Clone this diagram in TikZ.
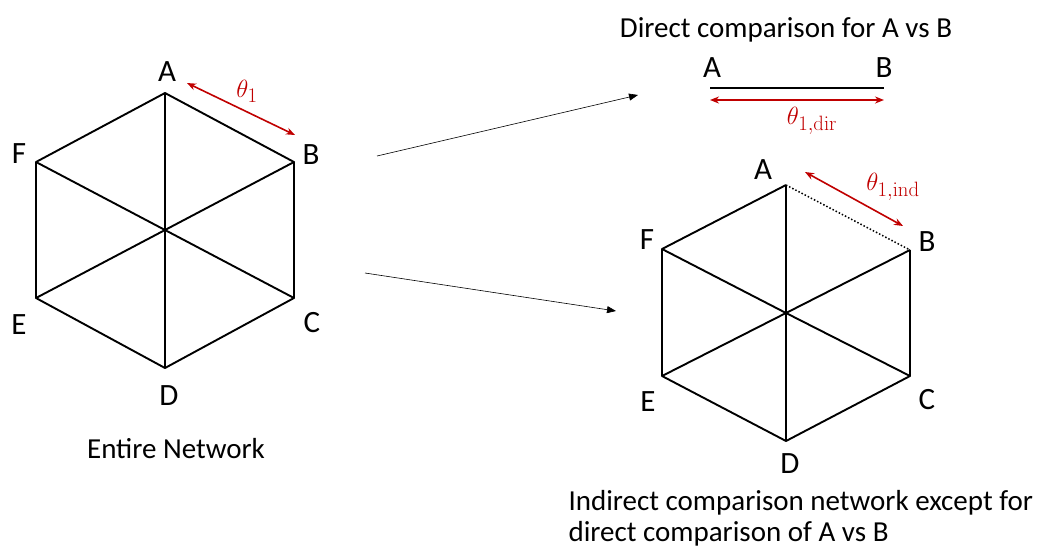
\documentclass[tikz,border=0pt]{standalone}
\usepackage[no-math]{fontspec}
\setmainfont{Carlito}
\usetikzlibrary{arrows.meta}
\definecolor{thetared}{RGB}{192,0,0}
\begin{document}
\begin{tikzpicture}[x=1pt,y=-1pt,
  vtx/.style={font=\fontsize{31}{37}\selectfont},
  caption/.style={font=\fontsize{29}{33}\selectfont, anchor=base},
  edge/.style={line width=1.9pt, line join=round},
  par/.style={thetared, line width=1.6pt, {Stealth[length=9pt,width=7pt]}-{Stealth[length=9pt,width=7pt]}},
  theta/.style={thetared, font=\fontsize{31}{35}\selectfont},
  flow/.style={line width=0.6pt, -{Triangle[length=9pt,width=7pt]}}]
\useasboundingbox (0,0) rectangle (1046,550);
% entire network
\coordinate (lA) at (165,93);  \coordinate (lB) at (294,162);
\coordinate (lC) at (294,298); \coordinate (lD) at (165,368);
\coordinate (lE) at (36,298);  \coordinate (lF) at (36,162);
\coordinate (lO) at (165,230);
\node[vtx] (lAt) at (167,72) {A};  \node[vtx] (lBt) at (311,155) {B};
\node[vtx] (lCt) at (312,323) {C}; \node[vtx] (lDt) at (169,396) {D};
\node[vtx] (lEt) at (19,325) {E};  \node[vtx] (lFt) at (19,154) {F};
\draw[edge] (lA) -- (lB) -- (lC) -- (lD) -- (lE) -- (lF) -- cycle;
\draw[edge, line width=2.6pt] (lE) -- (lF);
\foreach \v in {A,B,C,D,E,F} \draw[edge] (lO) -- (l\v);
\coordinate (lpa) at (187,83); \coordinate (lpb) at (295,135);
\draw[par] (lpa) -- (lpb);
\node[theta] (lth) at (247,91) {$\theta_1$};
\node[caption] (entire) at (176,458) {Entire Network};
% direct comparison
\node[caption] (dirtitle) at (786,37) {Direct comparison for A vs B};
\node[vtx] (dAt) at (712,68) {A}; \node[vtx] (dBt) at (884,68) {B};
\coordinate (dA) at (710,88); \coordinate (dB) at (884,88);
\draw[line width=1.8pt] (dA) -- (dB);
\coordinate (dpa) at (710,100); \coordinate (dpb) at (884,100);
\draw[par] (dpa) -- (dpb);
\node[theta] (dth) at (812,121) {$\theta_{1,\mathrm{dir}}$};
% indirect network
\coordinate (rA) at (786,185); \coordinate (rB) at (910,250);
\coordinate (rC) at (910,376); \coordinate (rD) at (786,441);
\coordinate (rE) at (662,376); \coordinate (rF) at (662,249);
\coordinate (rO) at (786,313);
\node[vtx] (rAt) at (763,170) {A}; \node[vtx] (rBt) at (927,242) {B};
\node[vtx] (rCt) at (927,400) {C}; \node[vtx] (rDt) at (790,464) {D};
\node[vtx] (rEt) at (648,402) {E}; \node[vtx] (rFt) at (647,240) {F};
\draw[edge] (rB) -- (rC) -- (rD) -- (rE) -- (rF) -- (rA);
\draw[line width=1.5pt, dotted] (rA) -- (rB);
\foreach \v in {A,B,C,D,E,F} \draw[edge] (rO) -- (r\v);
\coordinate (rpa) at (805,172); \coordinate (rpb) at (903,226);
\draw[par] (rpa) -- (rpb);
\node[theta] (rth) at (893,187) {$\theta_{1,\mathrm{ind}}$};
\node[caption, anchor=base west] (indcapa) at (565,510) {Indirect comparison network except for};
\node[caption, anchor=base west] (indcapb) at (565,541) {direct comparison of A vs B};
% split arrows
\coordinate (s1) at (377,156); \coordinate (t1) at (638,95);
\coordinate (s2) at (365,273); \coordinate (t2) at (616,311);
\draw[flow] (s1) -- (t1);
\draw[flow] (s2) -- (t2);
\end{tikzpicture}
\end{document}
